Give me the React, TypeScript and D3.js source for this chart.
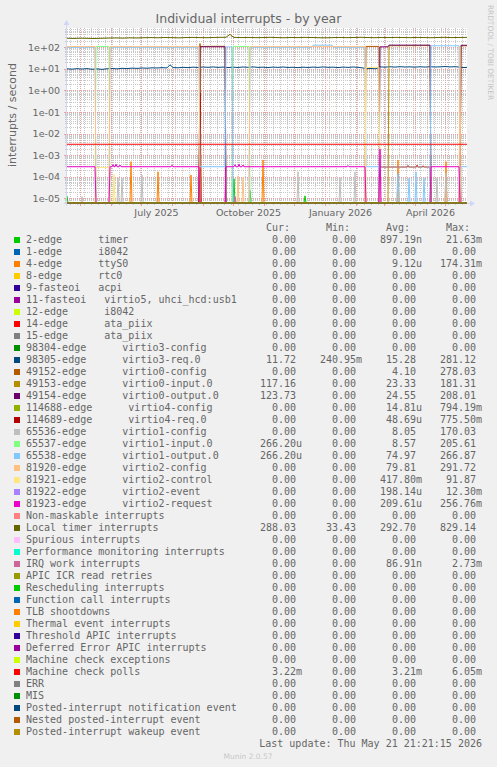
import React from "react";
import * as d3 from "d3";

// ---------- layout constants ----------
const W = 497;
const H = 767;
const X0 = 67;
const X1 = 467;
const YTOP = 28;
const YBOT = 203;

// ---------- data ----------
const START_DATE = new Date(2025, 3, 18);
const SPAN_DAYS = 400;
const Y_DOMAIN: [number, number] = [6.05e-6, 785];

const TITLE = "Individual interrupts - by year";
const Y_LABEL = "interrupts / second";
const X_LABEL_MONTHS = [new Date(2025, 6, 1), new Date(2025, 9, 1), new Date(2026, 0, 1), new Date(2026, 3, 1)];
const X_LABEL_TEXT = ["July 2025", "October 2025", "January 2026", "April 2026"];
const Y_TICKS = [1e2, 1e1, 1e0, 1e-1, 1e-2, 1e-3, 1e-4, 1e-5];
const Y_TICK_LABELS = ["1e+02", "1e+01", "1e+00", "1e-01", "1e-02", "1e-03", "1e-04", "1e-05"];

const NAMES = [
  "2-edge      timer",
  "1-edge      i8042",
  "4-edge      ttyS0",
  "8-edge      rtc0",
  "9-fasteoi   acpi",
  "11-fasteoi   virtio5, uhci_hcd:usb1",
  "12-edge      i8042",
  "14-edge      ata_piix",
  "15-edge      ata_piix",
  "98304-edge      virtio3-config",
  "98305-edge      virtio3-req.0",
  "49152-edge      virtio0-config",
  "49153-edge      virtio0-input.0",
  "49154-edge      virtio0-output.0",
  "114688-edge      virtio4-config",
  "114689-edge      virtio4-req.0",
  "65536-edge      virtio1-config",
  "65537-edge      virtio1-input.0",
  "65538-edge      virtio1-output.0",
  "81920-edge      virtio2-config",
  "81921-edge      virtio2-control",
  "81922-edge      virtio2-event",
  "81923-edge      virtio2-request",
  "Non-maskable interrupts",
  "Local timer interrupts",
  "Spurious interrupts",
  "Performance monitoring interrupts",
  "IRQ work interrupts",
  "APIC ICR read retries",
  "Rescheduling interrupts",
  "Function call interrupts",
  "TLB shootdowns",
  "Thermal event interrupts",
  "Threshold APIC interrupts",
  "Deferred Error APIC interrupts",
  "Machine check exceptions",
  "Machine check polls",
  "ERR",
  "MIS",
  "Posted-interrupt notification event",
  "Nested posted-interrupt event",
  "Posted-interrupt wakeup event",
];

const COLORS = [
  "#00CC00", "#0066B3", "#FF8000", "#FFCC00", "#330099", "#990099", "#CCFF00", "#FF0000", "#808080",
  "#008F00", "#00487D", "#B35A00", "#B38F00", "#6B006B", "#8FB300", "#B30000", "#BEBEBE", "#80FF80",
  "#80C9FF", "#FFC080", "#FFE680", "#AA80FF", "#EE00CC", "#FF8080", "#666600", "#FFBFFF", "#00FFCC",
  "#CC6699", "#999900", "#00CC00", "#0066B3", "#FF8000", "#FFCC00", "#330099", "#990099", "#CCFF00",
  "#FF0000", "#808080", "#008F00", "#00487D", "#B35A00", "#B38F00",
];

const Z = "0.00";
const CUR = [Z, Z, Z, Z, Z, Z, Z, Z, Z, Z, "11.72", Z, "117.16", "123.73", Z, Z, Z, "266.20u", "266.20u", Z, Z, Z, Z, Z, "288.03", Z, Z, Z, Z, Z, Z, Z, Z, Z, Z, Z, "3.22m", Z, Z, Z, Z, Z];
const MIN = [Z, Z, Z, Z, Z, Z, Z, Z, Z, Z, "240.95m", Z, Z, Z, Z, Z, Z, Z, Z, Z, Z, Z, Z, Z, "33.43", Z, Z, Z, Z, Z, Z, Z, Z, Z, Z, Z, Z, Z, Z, Z, Z, Z];
const AVG = ["897.19n", Z, "9.12u", Z, Z, Z, Z, Z, Z, Z, "15.28", "4.10", "23.33", "24.55", "14.81u", "48.69u", "8.05", "8.57", "74.97", "79.81", "417.80m", "198.14u", "209.61u", Z, "292.70", Z, Z, "86.91n", Z, Z, Z, Z, Z, Z, Z, Z, "3.21m", Z, Z, Z, Z, Z];
const MAX = ["21.63m", Z, "174.31m", Z, Z, Z, Z, Z, Z, Z, "281.12", "278.03", "181.31", "208.01", "794.19m", "775.50m", "170.03", "205.61", "266.87", "291.72", "91.87", "12.30m", "256.76m", Z, "829.14", Z, Z, "2.73m", Z, Z, Z, Z, Z, Z, Z, Z, "6.05m", Z, Z, Z, Z, Z];

type Pt = [number, number]; // [day since START_DATE, value]
const ZERO: Pt[] = [[0, 0], [400, 0]];

const timer2: Pt[] = [[0, 1.3e-5], [1, 0], [166, 0], [167, 8e-5], [168, 0], [182, 0], [183, 2.3e-5], [184, 0], [237, 0], [238, 1.3e-5], [239, 0], [400, 0]];
const ttyS0: Pt[] = [[0, 0], [63, 0], [64, 5e-4], [65, 0], [90, 0], [91, 1.7e-4], [92, 0], [123, 0], [124, 1.2e-4], [125, 0], [195, 0], [196, 6e-4], [197, 0], [330, 0], [331, 6e-4], [332, 0], [378, 0], [379, 5e-4], [380, 0], [400, 0]];
const virtio3Req: Pt[] = [[0, 10.1], [5, 9.7], [10, 10.2], [15, 9.8], [20, 10.3], [25, 9.6], [30, 10.0], [35, 9.5], [40, 10.1], [45, 10.4], [50, 10.0], [55, 10.6], [60, 10.3], [65, 10.8], [70, 10.5], [75, 11.0], [80, 10.7], [85, 11.2], [90, 11.0], [95, 11.4], [100, 11.1], [103, 15.5], [106, 11.5], [111, 11.2], [116, 11.8], [121, 11.4], [126, 12.0], [131, 11.6], [136, 12.2], [141, 11.8], [146, 12.3], [151, 11.7], [156, 12.1], [161, 11.5], [166, 12.0], [171, 11.6], [176, 12.2], [181, 11.8], [186, 12.3], [191, 11.7], [196, 12.0], [201, 11.5], [206, 12.1], [211, 11.7], [216, 12.2], [221, 11.6], [226, 11.9], [231, 11.4], [236, 12.0], [241, 11.6], [246, 12.1], [251, 11.7], [256, 12.3], [261, 11.8], [266, 12.0], [271, 11.5], [276, 12.1], [281, 11.7], [286, 12.2], [291, 11.8], [296, 11.0], [299, 10.2], [304, 10.4], [309, 10.1], [313, 12.4], [318, 12.0], [323, 12.5], [328, 12.1], [333, 12.6], [338, 12.2], [343, 12.4], [348, 12.0], [353, 12.5], [358, 12.1], [363, 12.6], [368, 12.2], [373, 12.4], [378, 12.8], [383, 12.3], [388, 12.6], [393, 12.0], [397, 11.5], [400, 11.7]];
const virtio0Config: Pt[] = [[0, 0], [132, 0], [133, 150], [134, 0], [298, 0], [299, 110], [312, 110], [313, 0], [400, 0]];
const virtio0Input: Pt[] = [[0, 0], [132, 0], [133, 110], [158, 112], [159, 0], [321, 0], [322, 118], [363, 120], [364, 0], [393, 0], [394, 117], [400, 117]];
const virtio0Output: Pt[] = [[0, 0], [132, 0], [133, 106], [158, 106], [159, 0], [312, 0], [313, 105], [321, 105], [322, 126], [363, 126], [364, 0], [393, 0], [394, 124], [400, 124]];
const virtio4Req: Pt[] = [[0, 0], [132, 0], [133, 0.77], [134, 0], [312, 0], [313, 2.8e-4], [340, 2.8e-4], [341, 3.3e-4], [342, 2.8e-4], [349, 2.8e-4], [350, 3.4e-4], [351, 2.8e-4], [355, 2.8e-4], [356, 3.2e-4], [357, 2.8e-4], [363, 2.8e-4], [364, 0], [392, 0], [393, 1.4e-3], [394, 0], [400, 0]];
const virtio1Config: Pt[] = [[0, 0], [14, 0], [15, 1.2e-5], [16, 0], [50, 0], [51, 9e-5], [52, 0], [54, 0], [55, 8.5e-5], [56, 0], [74, 0], [75, 1.2e-4], [76, 0], [230, 0], [231, 1.7e-4], [232, 0], [272, 0], [273, 9.3e-5], [274, 0], [287, 0], [288, 1.7e-4], [289, 0], [312, 0], [313, 2.8e-4], [363, 2.8e-4], [364, 0], [369, 0], [370, 9e-5], [371, 0], [378, 0], [379, 1.5e-4], [380, 0], [400, 0]];
const virtio1Input: Pt[] = [[0, 0], [28, 0], [29, 110], [42, 110], [43, 0], [165, 0], [166, 110], [182, 110], [183, 0], [400, 0]];
const virtio1Output: Pt[] = [[0, 100], [28, 100], [29, 0], [42, 0], [43, 100], [132, 100], [133, 2.9e-4], [158, 2.9e-4], [159, 105], [165, 105], [166, 0], [182, 0], [183, 100], [245, 100], [246, 125], [265, 125], [266, 100], [298, 100], [299, 2.9e-4], [312, 2.9e-4], [313, 0], [330, 0], [331, 1.4e-4], [332, 0], [341, 0], [342, 8.5e-5], [343, 0], [348, 0], [349, 1.7e-4], [350, 0], [356, 0], [357, 9e-5], [358, 0], [363, 0], [364, 118], [392, 118], [393, 0], [394, 2.9e-4], [400, 2.9e-4]];
const virtio2Config: Pt[] = [[0, 108], [28, 108], [29, 0], [42, 0], [43, 108], [132, 108], [133, 0], [170, 0], [171, 1.1e-4], [172, 0], [175, 0], [176, 9e-5], [177, 0], [182, 0], [183, 108], [298, 108], [299, 0], [392, 0], [393, 108], [394, 0], [400, 0]];
const virtio2Control: Pt[] = [[0, 0], [28, 0], [29, 2.7e-4], [42, 2.7e-4], [43, 0], [46, 0], [47, 1.3e-4], [48, 0], [298, 0], [299, 11.5], [312, 12], [313, 0], [400, 0]];
const virtio2Request: Pt[] = [[0, 2.9e-4], [28, 2.9e-4], [29, 0], [42, 0], [43, 2.9e-4], [45, 2.9e-4], [46, 3.6e-4], [47, 2.9e-4], [48, 2.9e-4], [49, 3.8e-4], [50, 2.9e-4], [52, 2.9e-4], [53, 3.5e-4], [54, 2.9e-4], [104, 2.9e-4], [105, 3.4e-4], [106, 2.9e-4], [132, 2.9e-4], [133, 0], [158, 0], [159, 2.9e-4], [167, 2.9e-4], [168, 3.6e-4], [169, 2.9e-4], [171, 2.9e-4], [172, 3.8e-4], [173, 2.9e-4], [175, 2.9e-4], [176, 3.5e-4], [177, 2.9e-4], [280, 2.9e-4], [281, 3.3e-4], [282, 2.9e-4], [298, 2.9e-4], [299, 0], [312, 0], [313, 1.9e-3], [314, 0], [363, 0], [364, 2.9e-4], [392, 2.9e-4], [393, 0], [400, 0]];
const localTimer: Pt[] = [[0, 262], [7, 258], [14, 265], [21, 260], [28, 255], [35, 263], [42, 268], [49, 272], [56, 266], [63, 275], [70, 270], [77, 278], [84, 282], [91, 276], [98, 285], [105, 280], [112, 274], [119, 283], [126, 288], [133, 281], [140, 279], [147, 286], [154, 290], [159, 292], [161, 340], [163, 400], [165, 330], [167, 288], [175, 282], [182, 287], [189, 279], [196, 284], [203, 290], [210, 283], [217, 277], [224, 286], [231, 281], [238, 289], [245, 284], [252, 278], [259, 275], [266, 282], [273, 287], [280, 280], [287, 285], [294, 291], [301, 283], [308, 279], [315, 286], [322, 282], [329, 288], [336, 284], [343, 280], [350, 287], [357, 283], [364, 278], [371, 285], [378, 290], [385, 282], [392, 286], [400, 288]];
const irqWork: Pt[] = [[0, 0], [167, 0], [168, 1.2e-5], [169, 0], [400, 0]];
const mcePolls: Pt[] = [[0, 3.2e-3], [400, 3.2e-3]];

const SERIES: Pt[][] = [
  timer2, ZERO, ttyS0, ZERO, ZERO, ZERO, ZERO, ZERO, ZERO, ZERO,
  virtio3Req, virtio0Config, virtio0Input, virtio0Output, ZERO, virtio4Req, virtio1Config, virtio1Input, virtio1Output, virtio2Config,
  virtio2Control, ZERO, virtio2Request, ZERO, localTimer, ZERO, ZERO, irqWork, ZERO, ZERO,
  ZERO, ZERO, ZERO, ZERO, ZERO, ZERO, mcePolls, ZERO, ZERO, ZERO,
  ZERO, ZERO,
];

// ---------- scales ----------
const endDate = d3.timeDay.offset(START_DATE, SPAN_DAYS);
const x = d3.scaleTime().domain([START_DATE, endDate]).range([X0, X1]);
const y = d3.scaleLog().domain(Y_DOMAIN).range([YBOT, YTOP]);
const dayX = (d: number) => x(d3.timeDay.offset(START_DATE, d));
const valY = (v: number) => (v > Y_DOMAIN[0] ? y(v) : YBOT);

const line = d3
  .line<Pt>()
  .x((p) => dayX(p[0]))
  .y((p) => valY(p[1]));

const FONT = "DejaVu Sans, sans-serif";
const MONO = "DejaVu Sans Mono, monospace";
const TEXT = "#666";
const GRID = "#C8C8C8";
const MGRID = "#E8A0A0";
const AXIS = "#CFD6F8";

function Val({ s, xEnd, yy }: { s: string; xEnd: number; yy: number }) {
  const m = s.match(/^([\d.]+)([a-zA-Z]?)$/);
  const num = m ? m[1] : s;
  const suf = m ? m[2] : "";
  return (
    <g>
      <text x={xEnd} y={yy} textAnchor="end">{num}</text>
      {suf && <text x={xEnd} y={yy}>{suf}</text>}
    </g>
  );
}

export default function App() {
  const hMinor: number[] = [];
  const hMajor: number[] = [];
  for (let e = -6; e <= 3; e++) {
    for (let m = 1; m <= 9; m++) {
      const v = m * Math.pow(10, e);
      if (v >= Y_DOMAIN[0] && v <= Y_DOMAIN[1]) (m === 1 ? hMajor : hMinor).push(v);
    }
  }
  const months = d3.timeMonth.range(d3.timeDay.offset(START_DATE, 1), endDate);
  const weeks = d3.timeMonday.range(d3.timeDay.offset(START_DATE, 1), endDate);

  const legendY0 = 243.3;
  const rowH = 12;
  const colEnds = [296, 356, 416, 476];
  const headEnds = [290, 350, 410, 470];
  const headers = ["Cur:", "Min:", "Avg:", "Max:"];

  return (
    <svg
      width={W}
      height={H}
      style={{ position: "absolute", left: 0, top: 0, display: "block" }}
      xmlns="http://www.w3.org/2000/svg"
    >
      <defs>
        <clipPath id="plotclip">
          <rect x={X0} y={YTOP} width={X1 - X0} height={YBOT - YTOP + 0.6} />
        </clipPath>
      </defs>
      <rect x={0} y={0} width={W} height={H} fill="#F0F0F0" />
      <rect x={X0} y={YTOP} width={X1 - X0} height={YBOT - YTOP} fill="#FFFFFF" />

      {/* grid */}
      <g shapeRendering="crispEdges" strokeWidth={1} strokeDasharray="1,1">
        {hMinor.map((v, i) => (
          <line key={"hm" + i} x1={X0} x2={X1} y1={Math.round(y(v)) + 0.5} y2={Math.round(y(v)) + 0.5} stroke={GRID} />
        ))}
        {weeks.map((d, i) => (
          <line key={"vm" + i} x1={Math.round(x(d)) + 0.5} x2={Math.round(x(d)) + 0.5} y1={YTOP} y2={YBOT} stroke={GRID} />
        ))}
        {hMajor.map((v, i) => (
          <line key={"hM" + i} x1={X0} x2={X1} y1={Math.round(y(v)) + 0.5} y2={Math.round(y(v)) + 0.5} stroke={MGRID} />
        ))}
        {months.map((d, i) => (
          <line key={"vM" + i} x1={Math.round(x(d)) + 0.5} x2={Math.round(x(d)) + 0.5} y1={YTOP} y2={YBOT} stroke={MGRID} />
        ))}
      </g>
      {/* ticks */}
      <g shapeRendering="crispEdges" strokeWidth={1}>
        {weeks.map((d, i) => (
          <line key={"tm" + i} x1={Math.round(x(d)) + 0.5} x2={Math.round(x(d)) + 0.5} y1={YBOT} y2={YBOT + 2} stroke={GRID} />
        ))}
        {months.map((d, i) => (
          <line key={"tM" + i} x1={Math.round(x(d)) + 0.5} x2={Math.round(x(d)) + 0.5} y1={YBOT} y2={YBOT + 3} stroke={MGRID} />
        ))}
        {hMinor.map((v, i) => (
          <line key={"ytm" + i} x1={X0 - 2} x2={X0} y1={Math.round(y(v)) + 0.5} y2={Math.round(y(v)) + 0.5} stroke={GRID} />
        ))}
        {hMajor.map((v, i) => (
          <line key={"ytM" + i} x1={X0 - 3} x2={X0} y1={Math.round(y(v)) + 0.5} y2={Math.round(y(v)) + 0.5} stroke={MGRID} />
        ))}
      </g>

      {/* axes */}
      <g shapeRendering="crispEdges">
        <line x1={X0 - 0.5} x2={X0 - 0.5} y1={YBOT + 3} y2={YTOP - 4} stroke={AXIS} />
        <line x1={X0 - 3} x2={X1 + 4} y1={YBOT + 0.5} y2={YBOT + 0.5} stroke={AXIS} />
      </g>
      <path d={`M${X0 - 3.5},${YTOP - 3} L${X0 - 0.5},${YTOP - 8} L${X0 + 2.5},${YTOP - 3} Z`} fill={AXIS} />
      <path d={`M${X1 + 3},${YBOT - 2.5} L${X1 + 8},${YBOT + 0.5} L${X1 + 3},${YBOT + 3.5} Z`} fill={AXIS} />

      {/* series */}
      <g clipPath="url(#plotclip)" fill="none" strokeWidth={1} strokeLinejoin="round">
        {SERIES.map((pts, i) => (
          <path key={"s" + i} d={line(pts) || ""} stroke={COLORS[i]} />
        ))}
      </g>

      {/* title & labels */}
      <text x={248.5} y={23.3} textAnchor="middle" fontFamily={FONT} fontSize={12.5} fill={TEXT}>
        {TITLE}
      </text>
      <text
        transform={`translate(15.5,115) rotate(-90)`}
        textAnchor="middle"
        fontFamily={FONT}
        fontSize={11}
        fill={TEXT}
      >
        {Y_LABEL}
      </text>
      <text
        transform={`translate(487.5,52.5) rotate(90)`}
        textAnchor="middle"
        fontFamily={FONT}
        fontSize={7.4}
        fill="#C4C4C4"
      >
        RRDTOOL / TOBI OETIKER
      </text>
      <g fontFamily={FONT} fontSize={9.5} fill={TEXT}>
        {Y_TICKS.map((v, i) => (
          <text key={"yl" + i} x={60} y={y(v) + 3.5} textAnchor="end">
            {Y_TICK_LABELS[i]}
          </text>
        ))}
        {X_LABEL_MONTHS.map((m, i) => (
          <text key={"xl" + i} x={x(d3.timeHour.offset(m, 372))} y={215.5} textAnchor="middle">
            {X_LABEL_TEXT[i]}
          </text>
        ))}
      </g>

      {/* legend */}
      <g fontFamily={MONO} fontSize={10} fill={TEXT}>
        {headers.map((h, i) => (
          <text key={"h" + i} x={headEnds[i]} y={legendY0 - rowH} textAnchor="end">
            {h}
          </text>
        ))}
        {NAMES.map((n, i) => {
          const yy = legendY0 + i * rowH;
          return (
            <g key={"l" + i}>
              <rect x={14} y={yy - 6.3} width={6} height={6} fill={COLORS[i]} />
              <text x={26} y={yy} xmlSpace="preserve" style={{ whiteSpace: "pre" }}>
                {n}
              </text>
              <Val s={CUR[i]} xEnd={colEnds[0]} yy={yy} />
              <Val s={MIN[i]} xEnd={colEnds[1]} yy={yy} />
              <Val s={AVG[i]} xEnd={colEnds[2]} yy={yy} />
              <Val s={MAX[i]} xEnd={colEnds[3]} yy={yy} />
            </g>
          );
        })}
        <text x={482} y={legendY0 + NAMES.length * rowH} textAnchor="end">
          Last update: Thu May 21 21:21:15 2026
        </text>
      </g>
      <text x={248} y={758.5} textAnchor="middle" fontFamily={FONT} fontSize={7.5} fill="#C8C8C8">
        Munin 2.0.57
      </text>
    </svg>
  );
}
